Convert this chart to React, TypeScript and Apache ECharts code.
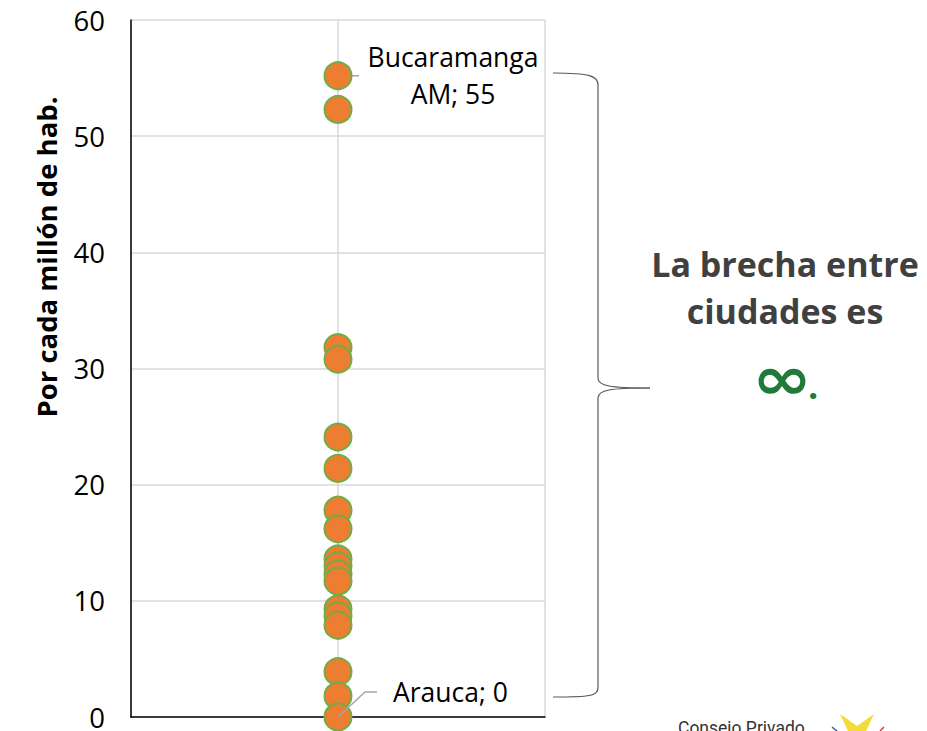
import React, { useEffect, useRef } from "react";
import * as echarts from "echarts";

const yTicks = [0, 10, 20, 30, 40, 50, 60];
const values = [55.2, 52.3, 31.8, 30.8, 24.1, 21.4, 17.8, 16.2, 13.6, 13.0, 12.3, 11.7, 9.3, 8.7, 7.9, 3.9, 1.8, 0];
const cities = ["Bucaramanga AM", "", "", "", "", "", "", "", "", "", "", "", "", "", "", "", "", "Arauca"];
const axisTitle = "Por cada millón de hab.";
const noteText = "La brecha entre\nciudades es";
const FONT = "'Open Sans', 'Noto Sans', sans-serif";

export default function App() {
  const ref = useRef<HTMLDivElement>(null);
  useEffect(() => {
    if (!ref.current) return;
    const chart = echarts.init(ref.current, undefined, { renderer: "svg" });
    const last = values.length - 1;
    const data = values.map((v, i) => {
      const item: any = { value: [1, v], name: cities[i] };
      if (i === 0) {
        item.label = {
          show: true,
          formatter: (p: any) => p.name.replace(" ", "\n") + "; " + Math.round(p.value[1]),
          position: [13.5 + 116, 14],
          align: "center",
          verticalAlign: "middle",
          fontSize: 26.5,
          lineHeight: 37,
          color: "#000",
          fontFamily: FONT,
        };
      } else if (i === last) {
        item.label = {
          show: true,
          formatter: (p: any) => p.name + "; " + Math.round(p.value[1]),
          position: [13.5 + 56, 13.5 - 24],
          align: "left",
          verticalAlign: "middle",
          fontSize: 26.5,
          color: "#000",
          fontFamily: FONT,
        };
      }
      return item;
    });

    chart.setOption({
      animation: false,
      backgroundColor: "#fff",
      grid: { left: 131, top: 20, width: 414, height: 699, containLabel: false },
      xAxis: {
        type: "value",
        min: 0,
        max: 2,
        interval: 1,
        axisLine: { show: true, onZero: false, lineStyle: { color: "#000", width: 1.5 } },
        axisTick: { show: false },
        axisLabel: { show: false },
        splitLine: { show: true, lineStyle: { color: "#d9d9d9", width: 1.5 } },
      },
      yAxis: {
        type: "value",
        min: yTicks[0],
        max: yTicks[yTicks.length - 1],
        interval: 10,
        axisLine: { show: true, lineStyle: { color: "#000", width: 1.5 } },
        axisTick: { show: false },
        axisLabel: { fontSize: 27.5, color: "#000", margin: 26, fontFamily: FONT },
        splitLine: { show: true, lineStyle: { color: "#d9d9d9", width: 1.5 } },
      },
      series: [
        {
          type: "scatter",
          data,
          symbol: "circle",
          symbolSize: 27,
          itemStyle: { color: "#ED7D31", borderColor: "#70AD47", borderWidth: 2, opacity: 1 },
          label: { show: false },
          z: 3,
        },
      ],
    });

    const top = chart.convertToPixel({ seriesIndex: 0 }, [1, values[0]]) as number[];
    const bot = chart.convertToPixel({ seriesIndex: 0 }, [1, values[last]]) as number[];
    const lead = { stroke: "#a6a6a6", lineWidth: 1.5 };
    const brace = { stroke: "#595959", lineWidth: 1.2, fill: "none" };

    chart.setOption({
      graphic: [
        {
          type: "polyline",
          z: 2,
          shape: { points: [[top[0], top[1]], [top[0] + 21, top[1]]] },
          style: lead,
        },
        {
          type: "polyline",
          z: 10,
          shape: { points: [[bot[0], bot[1]], [bot[0] + 27, bot[1] - 25], [bot[0] + 39, bot[1] - 25]] },
          style: lead,
        },
        {
          type: "text",
          x: 46,
          y: 257,
          rotation: Math.PI / 2,
          style: {
            text: axisTitle,
            fontSize: 27.5,
            fontWeight: "bold",
            fontFamily: FONT,
            fill: "#000",
            align: "center",
            verticalAlign: "middle",
          },
        },
        { type: "bezierCurve", shape: { x1: 553, y1: 73, cpx1: 590, cpy1: 73, cpx2: 598, cpy2: 76, x2: 598, y2: 85 }, style: brace },
        { type: "line", shape: { x1: 598, y1: 85, x2: 598, y2: 378 }, style: brace },
        { type: "bezierCurve", shape: { x1: 598, y1: 378, cpx1: 598, cpy1: 386, cpx2: 610, cpy2: 388, x2: 650, y2: 388 }, style: brace },
        { type: "bezierCurve", shape: { x1: 650, y1: 388, cpx1: 610, cpy1: 388, cpx2: 598, cpy2: 390, x2: 598, y2: 398 }, style: brace },
        { type: "line", shape: { x1: 598, y1: 398, x2: 598, y2: 688 }, style: brace },
        { type: "bezierCurve", shape: { x1: 598, y1: 688, cpx1: 598, cpy1: 696, cpx2: 590, cpy2: 697, x2: 553, y2: 697 }, style: brace },
        {
          type: "text",
          x: 785,
          y: 240,
          style: {
            text: noteText,
            fontSize: 34,
            lineHeight: 47,
            fontWeight: "bold",
            fontFamily: FONT,
            fill: "#404040",
            align: "center",
            verticalAlign: "top",
          },
        },
        {
          type: "text",
          x: 782,
          y: 378,
          scaleX: 1.2,
          style: {
            text: "∞",
            fontSize: 60,
            fontWeight: "bold",
            fontFamily: "'DejaVu Sans', sans-serif",
            fill: "#217a3a",
            align: "center",
            verticalAlign: "middle",
          },
        },
        {
          type: "text",
          x: 813,
          y: 385,
          style: {
            text: ".",
            fontSize: 36,
            fontWeight: "bold",
            fontFamily: FONT,
            fill: "#217a3a",
            align: "center",
            verticalAlign: "middle",
          },
        },
        {
          type: "text",
          x: 678,
          y: 719,
          style: {
            text: "Consejo Privado",
            fontSize: 17.5,
            fontFamily: "Roboto, sans-serif",
            fill: "#333",
            align: "left",
            verticalAlign: "top",
          },
        },
        {
          type: "polygon",
          shape: { points: [[840, 714], [857, 726], [874, 714], [866, 731], [848, 731]] },
          style: { fill: "#f2dc3a" },
        },
        { type: "line", shape: { x1: 832, y1: 727, x2: 837, y2: 731 }, style: { stroke: "#3b5bb5", lineWidth: 1.5 } },
        { type: "line", shape: { x1: 884, y1: 727, x2: 880, y2: 731 }, style: { stroke: "#d83a3a", lineWidth: 1.5 } },
      ],
    });

    return () => chart.dispose();
  }, []);

  return (
    <div
      ref={ref}
      style={{ position: "fixed", left: 0, top: 0, width: 927, height: 731, background: "#fff" }}
    />
  );
}
